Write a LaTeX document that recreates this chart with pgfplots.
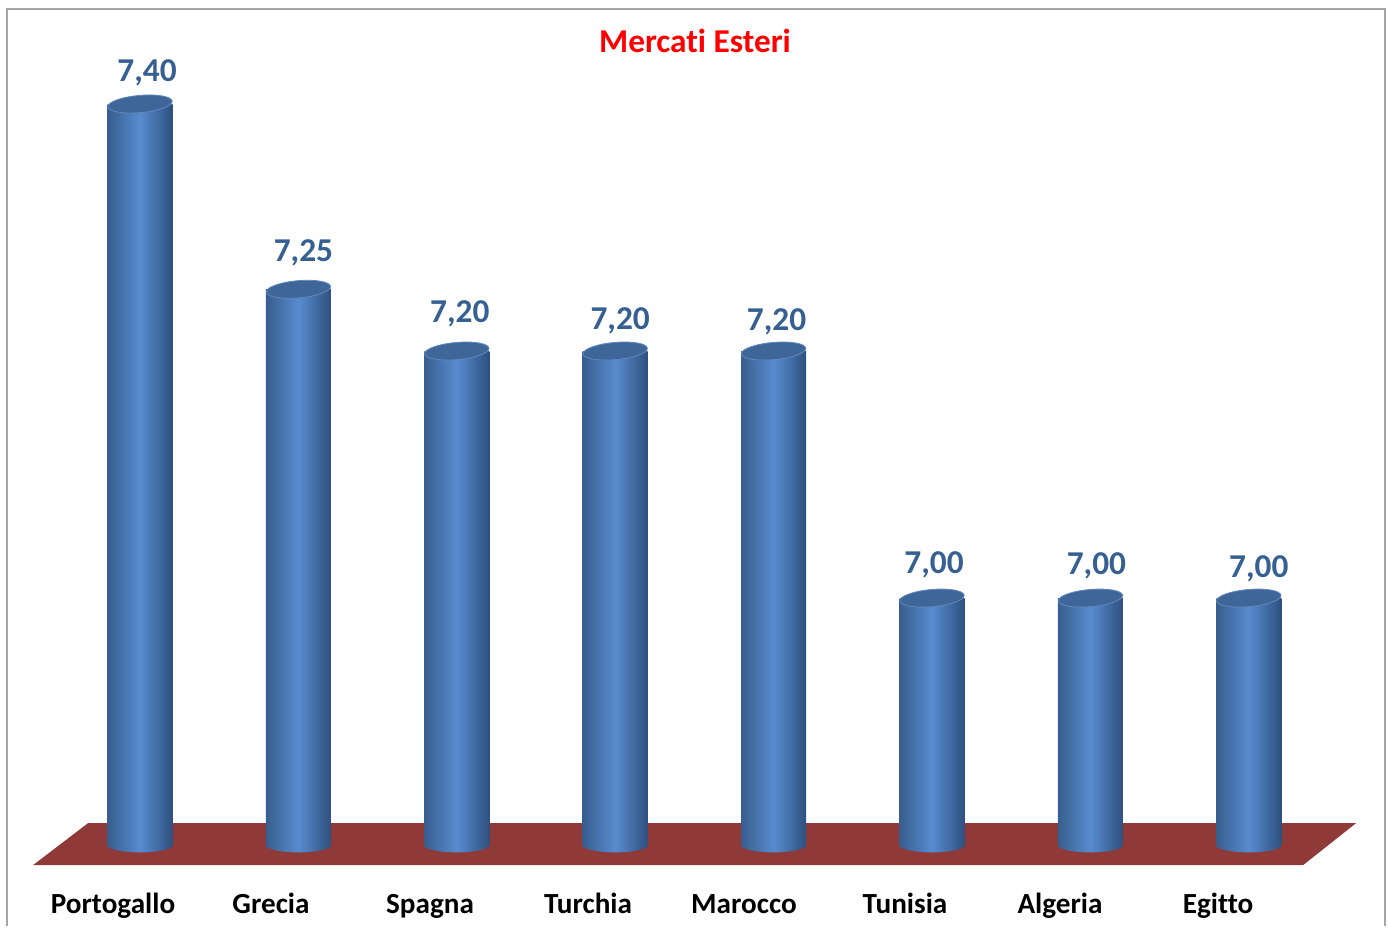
\documentclass[border=0pt]{standalone}
\usepackage{fontspec}
\setmainfont{Carlito}[Ligatures=NoCommon]
\usepackage{pgfplots}
\pgfplotsset{compat=1.18}

\definecolor{cylL}{RGB}{56,94,142}
\definecolor{cylM}{RGB}{88,140,208}
\definecolor{cylR}{RGB}{46,80,126}
\definecolor{cyltop}{RGB}{62,102,152}
\definecolor{cylrim}{RGB}{96,136,190}
\definecolor{floorred}{RGB}{143,58,56}
\definecolor{vallab}{RGB}{54,96,146}
\definecolor{framegray}{RGB}{165,165,165}

% same left-middle-right shading as the bar sides
\pgfdeclarehorizontalshading{cylshade}{100bp}{color(0bp)=(cylL); color(25bp)=(cylL);
  color(50bp)=(cylM); color(75bp)=(cylR); color(100bp)=(cylR)}
% lower half of the cylinder base
\pgfdeclareplotmark{cylbase}{%
  \pgfpathmoveto{\pgfqpoint{-\pgfplotmarksize}{0.6pt}}%
  \pgfpathlineto{\pgfqpoint{-\pgfplotmarksize}{0pt}}%
  \pgfpatharc{180}{360}{\pgfplotmarksize}%
  \pgfpathlineto{\pgfqpoint{\pgfplotmarksize}{0.6pt}}%
  \pgfpathclose
  \pgfshadepath{cylshade}{0}%
  \pgfusepath{discard}}

% 1 px of the reference = 0.36pt
\newcommand\px{0.36pt}

% one cylinder: x centre (px), value, label, label dx, label dy (px)
\newcommand\cyl[5]{%
  \addplot[ybar, bar width=65, bar shift=0pt, draw=none,
    left color=cylL, right color=cylR, middle color=cylM,
    nodes near coords={#3},
    every node near coord/.append style={anchor=center,
      xshift=#4*\px, yshift=#5*\px,
      font=\bfseries\fontsize{12}{12}\selectfont, text=vallab}]
    coordinates {(#1,#2)};}

\begin{document}
\begin{tikzpicture}
\begin{axis}[
  scale only axis,
  width=500pt, height=333.4pt,
  xmin=0, xmax=1389,
  ymin=6.7344, ymax=7.4842,
  y coord trafo/.code={\pgfmathparse{#1-6.8}},
  y coord inv trafo/.code={\pgfmathparse{#1+6.8}},
  axis line style={draw=none},
  tick style={draw=none},
  ytick=\empty,
  xtick={113,271,430,588,744,905,1060,1218},
  xticklabels={Portogallo,Grecia,Spagna,Turchia,Marocco,Tunisia,Algeria,Egitto},
  xticklabel style={anchor=base, yshift=13*0.36pt,
    font=\bfseries\fontsize{10.5}{10.5}\selectfont},
  clip=false,
]
\path (rel axis cs:0,0) rectangle (rel axis cs:1,1);

% floor
\addplot[fill=floorred, draw=none]
  coordinates {(88,6.81781) (1356,6.81781) (1303,6.78381) (33,6.78381)} -- cycle;

\cyl{140}{7.40}{7,40}{7}{31}
\cyl{298.4}{7.25}{7,25}{5}{36}
\cyl{456.8}{7.20}{7,20}{3}{37}
\cyl{615.2}{7.20}{7,20}{5}{30}
\cyl{773.6}{7.20}{7,20}{3}{29}
\cyl{932}{7.00}{7,00}{2}{33}
\cyl{1090.4}{7.00}{7,00}{6}{32}
\cyl{1248.8}{7.00}{7,00}{10}{29}

% bottom of the cylinders
\addplot[only marks, mark=cylbase, mark size=2.6pt,
  mark options={xscale=4.5}]
  coordinates {(140,6.8) (298.4,6.8) (456.8,6.8) (615.2,6.8)
               (773.6,6.8) (932,6.8) (1090.4,6.8) (1248.8,6.8)};

% tops of the cylinders
\addplot[only marks, mark=*, mark size=3.1pt,
  mark options={fill=cyltop, draw=cylrim, line width=0.3pt, rotate=5, xscale=3.75}]
  coordinates {(140,7.40) (298.4,7.25) (456.8,7.20) (615.2,7.20)
               (773.6,7.20) (932,7.00) (1090.4,7.00) (1248.8,7.00)};

\node[font=\bfseries\fontsize{12}{12}\selectfont, text=red]
  at (rel axis cs:0.50036,0.95572) {Mercati Esteri};
\draw[framegray, line width=0.5pt]
  (rel axis cs:0.00504,0) |- (rel axis cs:0.99712,0.99028) -- (rel axis cs:0.99712,0);
\end{axis}
\end{tikzpicture}
\end{document}
